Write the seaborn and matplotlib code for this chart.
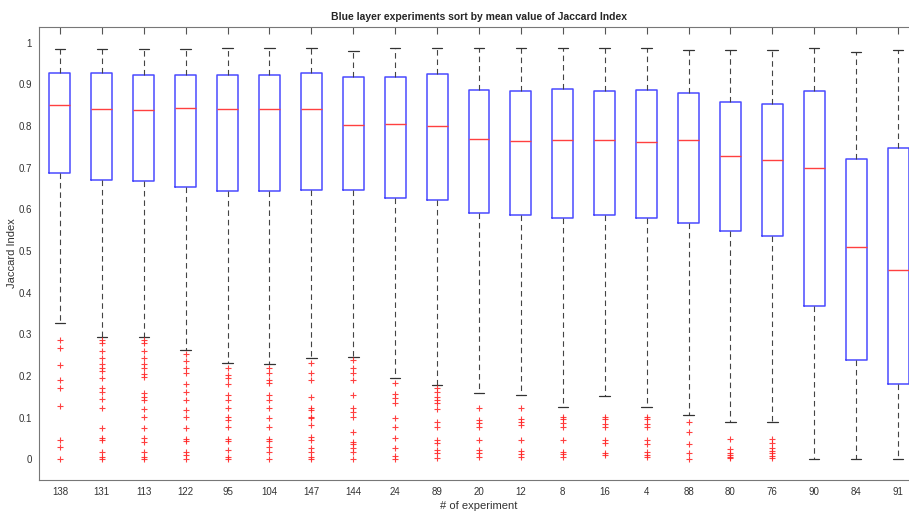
import numpy as np
import pandas as pd
import matplotlib
matplotlib.use("Agg")
import matplotlib.pyplot as plt
import seaborn as sns

experiments = ["138", "131", "113", "122", "95", "104", "147", "144", "24", "89",
               "20", "12", "8", "16", "4", "88", "80", "76", "90", "84", "91"]
whisker_low = [0.328, 0.293, 0.293, 0.262, 0.232, 0.229, 0.242, 0.246, 0.194, 0.178,
               0.158, 0.154, 0.126, 0.152, 0.126, 0.106, 0.089, 0.089, 0.0, 0.0, 0.0]
q1 = [0.687, 0.671, 0.667, 0.654, 0.644, 0.644, 0.647, 0.646, 0.627, 0.623,
      0.591, 0.586, 0.579, 0.586, 0.578, 0.568, 0.548, 0.535, 0.367, 0.239, 0.180]
median = [0.850, 0.841, 0.839, 0.842, 0.841, 0.841, 0.841, 0.802, 0.804, 0.801,
          0.769, 0.764, 0.767, 0.766, 0.762, 0.766, 0.728, 0.718, 0.698, 0.510, 0.454]
q3 = [0.928, 0.926, 0.922, 0.922, 0.922, 0.922, 0.927, 0.917, 0.917, 0.925,
      0.886, 0.884, 0.888, 0.885, 0.886, 0.879, 0.858, 0.852, 0.884, 0.721, 0.748]
whisker_high = [0.984, 0.984, 0.984, 0.984, 0.987, 0.987, 0.988, 0.979, 0.987, 0.987,
                0.987, 0.987, 0.988, 0.988, 0.988, 0.982, 0.982, 0.982, 0.988, 0.978, 0.982]
outliers = {
    "138": [0.286, 0.267, 0.226, 0.191, 0.170, 0.128, 0.046, 0.029, 0.0],
    "131": [0.286, 0.278, 0.260, 0.242, 0.228, 0.220, 0.212, 0.194, 0.170, 0.162,
            0.144, 0.122, 0.074, 0.050, 0.045, 0.018, 0.006, 0.0],
    "113": [0.286, 0.278, 0.260, 0.244, 0.228, 0.220, 0.204, 0.198, 0.158, 0.150,
            0.142, 0.120, 0.101, 0.074, 0.050, 0.042, 0.018, 0.006, 0.0],
    "122": [0.252, 0.236, 0.218, 0.206, 0.180, 0.162, 0.142, 0.118, 0.101, 0.074,
            0.048, 0.044, 0.018, 0.010, 0.0],
    "95": [0.220, 0.202, 0.194, 0.180, 0.154, 0.142, 0.124, 0.101, 0.094, 0.077,
           0.048, 0.044, 0.022, 0.006, 0.0],
    "104": [0.218, 0.206, 0.190, 0.182, 0.154, 0.142, 0.124, 0.098, 0.077, 0.048,
            0.044, 0.030, 0.018, 0.0],
    "147": [0.230, 0.206, 0.190, 0.150, 0.124, 0.118, 0.102, 0.098, 0.082, 0.054,
            0.046, 0.026, 0.018, 0.006, 0.0],
    "144": [0.238, 0.219, 0.206, 0.190, 0.154, 0.124, 0.114, 0.102, 0.066, 0.042,
            0.037, 0.026, 0.018, 0.0],
    "24": [0.184, 0.156, 0.146, 0.134, 0.098, 0.077, 0.050, 0.026, 0.008, 0.0],
    "89": [0.170, 0.162, 0.150, 0.142, 0.134, 0.120, 0.090, 0.078, 0.046, 0.038,
           0.022, 0.014, 0.002],
    "20": [0.124, 0.094, 0.086, 0.077, 0.045, 0.021, 0.014, 0.005],
    "12": [0.124, 0.096, 0.090, 0.082, 0.045, 0.020, 0.012, 0.006],
    "8": [0.102, 0.096, 0.086, 0.077, 0.046, 0.018, 0.013, 0.006],
    "16": [0.101, 0.096, 0.085, 0.077, 0.045, 0.038, 0.014, 0.010],
    "4": [0.102, 0.096, 0.085, 0.077, 0.046, 0.037, 0.018, 0.010, 0.005],
    "88": [0.090, 0.066, 0.036, 0.016, 0.0],
    "80": [0.049, 0.024, 0.014, 0.010, 0.006, 0.002],
    "76": [0.049, 0.039, 0.027, 0.020, 0.014, 0.008, 0.002],
    "90": [], "84": [], "91": [],
}
yticks = [0, 0.1, 0.2, 0.3, 0.4, 0.5, 0.6, 0.7, 0.8, 0.9, 1]

# five-number summary table (quartiles land exactly on the 2nd/3rd/4th values)
rows = []
for e, a, b, c, d, f in zip(experiments, whisker_low, q1, median, q3, whisker_high):
    for v in (a, b, c, d, f):
        rows.append((e, v))
box_df = pd.DataFrame(rows, columns=["exp", "ji"])
out_df = pd.DataFrame([(e, v) for e in experiments for v in outliers[e]],
                      columns=["exp", "ji"])

sns.set_style("white")
plt.rcParams["font.family"] = ["Liberation Sans", "DejaVu Sans"]

fig = plt.figure(figsize=(9.09, 5.11), dpi=100)
ax = fig.add_axes([39 / 909, 31 / 511, 880 / 909, 453 / 511])

sns.boxplot(data=box_df, x="exp", y="ji", order=experiments, whis=(0, 100),
            width=0.5, fill=False, showfliers=False, ax=ax,
            boxprops=dict(color="#4a4aff", linewidth=1.1),
            medianprops=dict(color="#ff4040", linewidth=1.0),
            whiskerprops=dict(color="#444444", linestyle=(0, (5, 3.5)), linewidth=0.8),
            capprops=dict(color="#333333", linewidth=0.9))
sns.stripplot(data=out_df, x="exp", y="ji", order=experiments, jitter=False,
              marker="+", color="#ff2020", edgecolor="#ff2020", size=5,
              linewidth=0.8, ax=ax)
for coll in ax.collections:
    coll.set_edgecolor("#ff2020")
    coll.set_facecolor("#ff2020")
    coll.set_alpha(0.85)

ax.set_xlim(-0.5, 20.5)
ax.set_ylim(-0.05, 1.0375)
ax.set_yticks(yticks)
ax.set_yticklabels([f"{t:g}" for t in yticks])
ax.tick_params(direction="in", length=5, width=0.8, colors="#555555",
               labelcolor="#333333", labelsize=7, top=True, right=True, pad=5)
for s in ax.spines.values():
    s.set_color("#777777")
    s.set_linewidth(0.8)
ax.set_title("Blue layer experiments sort by mean value of Jaccard Index",
             fontsize=7.5, fontweight="bold", pad=5)
ax.set_xlabel("# of experiment", fontsize=8, color="#333333", labelpad=3)
ax.set_ylabel("Jaccard Index", fontsize=8, color="#333333", labelpad=1)

fig.savefig("out.png", dpi=100)
